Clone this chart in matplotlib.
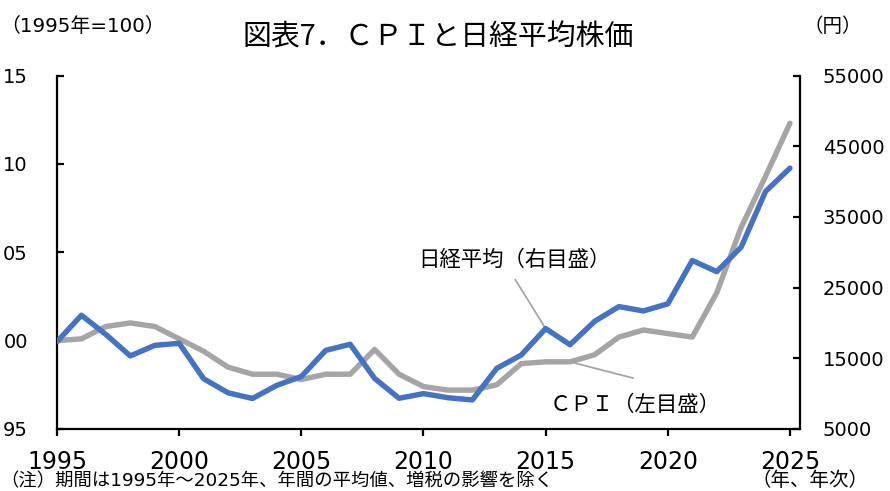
import matplotlib
matplotlib.use("Agg")
import matplotlib.pyplot as plt
from matplotlib.ticker import FixedLocator

plt.rcParams['font.family'] = ['Noto Sans CJK JP', 'DejaVu Sans']
MIX = ['DejaVu Sans', 'Noto Sans CJK JP']

# ---- data ----
years = list(range(1995, 2026))
cpi = [100.0, 100.1, 100.8, 101.0, 100.8, 100.1, 99.4, 98.5, 98.1, 98.1,
       97.8, 98.1, 98.1, 99.5, 98.1, 97.4, 97.2, 97.2, 97.5, 98.7,
       98.8, 98.8, 99.2, 100.2, 100.6, 100.4, 100.2, 102.7, 106.4, 109.3,
       112.3]
nikkei = [17355, 21092, 18373, 15339, 16830, 17123, 12115, 10119, 9313, 11181,
          12422, 16124, 16985, 12151, 9346, 10006, 9425, 9108, 13578, 15460,
          19204, 16920, 20219, 22311, 21697, 22705, 28837, 27257, 30716, 38600,
          41900]
x_ticks = [1995, 2000, 2005, 2010, 2015, 2020, 2025]
left_ticks = [95, 100, 105, 110, 115]
# the reference image crops the leading digit of the left-axis labels
left_tick_labels = ["95", "00", "05", "10", "15"]
right_ticks = [5000, 15000, 25000, 35000, 45000, 55000]

title = "図表7．ＣＰＩと日経平均株価"
left_unit = "（1995年=100）"
right_unit = "（円）"
x_unit = "（年、年次）"
note = "（注）期間は1995年～2025年、年間の平均値、増税の影響を除く"
label_nikkei = "日経平均（右目盛）"
label_cpi = "ＣＰＩ（左目盛）"

W, H = 890, 491
fig = plt.figure(figsize=(W / 100, H / 100), dpi=100)
ax = fig.add_axes([57 / W, 1 - 429 / H, (800 - 57) / W, (429 - 75.5) / H])
ax2 = ax.twinx()

blue = '#4472C4'
gray = '#A5A5A5'

ax.plot(years, cpi, color=gray, lw=3.9, solid_capstyle='round', zorder=2)
ax2.plot(years, nikkei, color=blue, lw=3.9, solid_capstyle='round', zorder=3)

ax.set_xlim(1995, 2025.41)
ax.set_ylim(95, 115)
ax2.set_ylim(5000, 55000)

ax.xaxis.set_major_locator(FixedLocator(x_ticks))
ax.yaxis.set_major_locator(FixedLocator(left_ticks))
ax2.yaxis.set_major_locator(FixedLocator(right_ticks))

for a in (ax, ax2):
    a.spines['top'].set_visible(False)
    for s in ('left', 'right', 'bottom'):
        a.spines[s].set_linewidth(1.6)
        a.spines[s].set_color('black')
ax.spines['right'].set_visible(False)
ax2.spines['left'].set_visible(False)
ax2.spines['bottom'].set_visible(False)

ax.tick_params(axis='x', direction='out', length=5, width=1.6, pad=10,
               labelsize=17, labelfontfamily='DejaVu Sans')
ax.tick_params(axis='y', direction='in', length=5, width=1.6, pad=21,
               labelsize=14, labelfontfamily='DejaVu Sans')
ax2.tick_params(axis='y', direction='in', length=5, width=1.6, pad=16.5,
                labelsize=14, labelfontfamily='DejaVu Sans')
ax.set_yticklabels(left_tick_labels)
ax2.set_yticklabels([str(v) for v in right_ticks])

# leader lines and labels
ax2.annotate('', xy=(years[20], nikkei[20]), xytext=(2013.75, 26165),
             arrowprops=dict(arrowstyle='-', color=gray, lw=1.3,
                             shrinkA=0, shrinkB=0), zorder=1)
ax.annotate('', xy=(years[21], cpi[21]), xytext=(2018.58, 97.88),
            arrowprops=dict(arrowstyle='-', color=gray, lw=1.3,
                            shrinkA=0, shrinkB=0), zorder=1)
ax.text(2009.78, 104.55, label_nikkei, fontsize=15.4, va='center', ha='left')
ax.text(2015.18, 96.36, label_cpi, fontsize=15.4, va='center', ha='left')

fig.text(438 / W, 1 - 38 / H, title, fontsize=20.8, ha='center', va='center')
fig.text(0, 1 - 26 / H, left_unit, fontsize=14.3, ha='left', va='center',
         family=MIX)
fig.text(833 / W, 1 - 27 / H, right_unit, fontsize=14, ha='center', va='center',
         family=MIX)
fig.text(810 / W, 1 - 481 / H, x_unit, fontsize=14, ha='center', va='center',
         family=MIX)
fig.text(0, 0.5 / H, note, fontsize=13.2, ha='left', va='bottom', family=MIX)

fig.savefig('out.png', dpi=100)
